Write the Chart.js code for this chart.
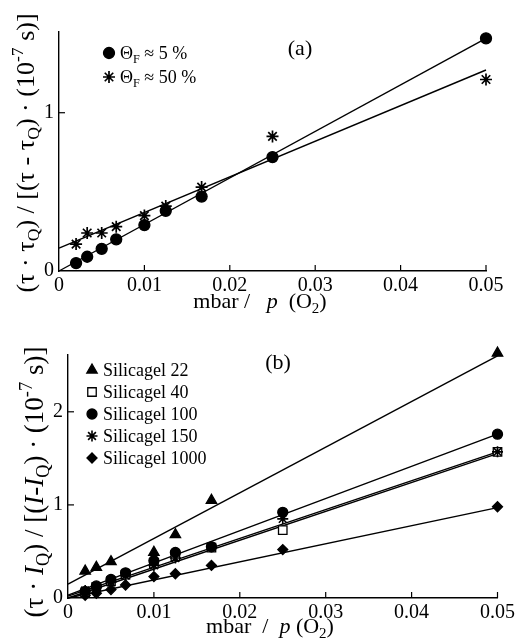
<!DOCTYPE html>
<html>
<head>
<meta charset="utf-8">
<script src="https://cdn.jsdelivr.net/npm/chart.js@4/dist/chart.umd.min.js"></script>
<style>
  body { margin: 0; background: #fff; }
  #wrap { position: relative; width: 518px; height: 639px; }
  canvas { position: absolute; left: 0; }
</style>
</head>
<body>
<div id="wrap">
  <canvas id="chartA" width="518" height="320" style="top:0"></canvas>
  <canvas id="chartB" width="518" height="319" style="top:320px"></canvas>
</div>
<script>
// x = 1 / p(O2) in 1/mbar
const pInv = [0.002, 0.0033, 0.005, 0.0067, 0.01, 0.0125, 0.0167, 0.025, 0.05];
const xTicks = [0, 0.01, 0.02, 0.03, 0.04, 0.05];

// panel (a)
const theta5 = [0.05, 0.09, 0.14, 0.20, 0.29, 0.38, 0.47, 0.72, 1.47];
const theta50 = [0.17, 0.24, 0.24, 0.28, 0.35, 0.41, 0.53, 0.85, 1.21];
const fitTheta5 = [0.0, 1.47];   // value at x=0 and x=0.05
const fitTheta50 = [0.145, 1.27];
const yTicksA = [0, 1];

// panel (b)
const sg22 = [0.29, 0.33, 0.39, null, 0.49, 0.68, 1.05, null, 2.63];
const sg40 = [0.06, 0.12, 0.18, 0.25, 0.37, 0.45, 0.54, 0.73, 1.57];
const sg100 = [0.07, 0.13, 0.20, 0.27, 0.40, 0.49, 0.55, 0.92, 1.76];
const sg150 = [0.08, 0.11, 0.17, 0.24, 0.35, 0.43, 0.55, 0.85, 1.57];
const sg1000 = [0.03, 0.05, 0.09, 0.14, 0.23, 0.26, 0.35, 0.52, 0.98];
const fitSg22 = [0.15, 2.60];
const fitSg40 = [0.02, 1.57];
const fitSg100 = [0.03, 1.76];
const fitSg150 = [0.0, 1.55];
const fitSg1000 = [0.0, 0.97];
const yTicksB = [0, 1, 2];

const FONT = "'Liberation Serif', 'DejaVu Serif', serif";

function pts(ys) {
    return pInv.map((x, i) => ({ x: x, y: ys[i] })).filter(p => p.y !== null);
}
function fitLine(ends) {
    return {
        data: [{ x: 0, y: ends[0] }, { x: 0.05, y: ends[1] }],
        showLine: true, pointRadius: 0, borderColor: "#000", borderWidth: 1.4,
        clip: false, order: 2
    };
}
function markers(ys, style, r, fill, bw) {
    return {
        data: pts(ys), pointStyle: style, pointRadius: r,
        backgroundColor: fill || "#000", borderColor: "#000", borderWidth: bw || 1.3,
        clip: false, order: 1
    };
}

// text with subscripts / superscripts / italics
function drawRich(ctx, parts, size, x, y, opts) {
    opts = opts || {};
    const fontOf = (p) => {
        let s = (p[1] === "sub" || p[1] === "sup") ? size * 0.68 : size;
        let it = p[1] === "i" ? "italic " : "";
        return it + s + "px " + FONT;
    };
    ctx.save();
    ctx.translate(x, y);
    if (opts.rotate) ctx.rotate(-Math.PI / 2);
    let w = 0;
    parts.forEach(p => { ctx.font = fontOf(p); w += ctx.measureText(p[0]).width; });
    let cx = opts.align === "left" ? 0 : -w / 2;
    ctx.fillStyle = "#000";
    ctx.textBaseline = "alphabetic";
    const base = size * 0.33;
    parts.forEach(p => {
        ctx.font = fontOf(p);
        let dy = base;
        if (p[1] === "sub") dy = base + size * 0.22;
        if (p[1] === "sup") dy = base - size * 0.42;
        ctx.fillText(p[0], cx, dy);
        cx += ctx.measureText(p[0]).width;
    });
    ctx.restore();
}

function decor(cfg) {
    return {
        id: "decor",
        afterDraw(chart) {
            const ctx = chart.ctx;
            const xs = chart.scales.x, ys = chart.scales.y;
            const a = chart.chartArea;
            ctx.save();
            ctx.strokeStyle = "#000";
            ctx.lineWidth = 1.2;
            // inward tick marks
            xTicks.slice(1).forEach(v => {
                const px = xs.getPixelForValue(v);
                ctx.beginPath(); ctx.moveTo(px, a.bottom); ctx.lineTo(px, a.bottom - 6); ctx.stroke();
            });
            cfg.yTicks.slice(1).forEach(v => {
                const py = ys.getPixelForValue(v);
                ctx.beginPath(); ctx.moveTo(a.left, py); ctx.lineTo(a.left + 6, py); ctx.stroke();
            });
            // titles
            drawRich(ctx, cfg.yTitle, cfg.yTitleSize, cfg.yTitlePos[0], cfg.yTitlePos[1], { rotate: true });
            drawRich(ctx, cfg.xTitle, 22, cfg.xTitlePos[0], cfg.xTitlePos[1]);
            drawRich(ctx, [[cfg.panel, ""]], 22, cfg.panelPos[0], cfg.panelPos[1]);
            // legend
            cfg.legend.forEach((item, i) => {
                const ly = cfg.legendPos[1] + i * cfg.legendGap;
                ctx.fillStyle = item.fill || "#000";
                ctx.strokeStyle = "#000";
                ctx.lineWidth = item.bw || 1.3;
                Chart.helpers.drawPoint(ctx, { pointStyle: item.style, radius: item.r, rotation: 0, borderWidth: item.bw || 1.3 },
                    cfg.legendPos[0], ly);
                drawRich(ctx, item.label, 18, cfg.legendPos[0] + 11, ly, { align: "left" });
            });
            ctx.restore();
        }
    };
}

function makeOptions(yMax, yTicks, yWidth, xHeight, pad) {
    return {
        responsive: false,
        devicePixelRatio: 1,
        animation: false,
        layout: { padding: pad },
        plugins: { legend: { display: false }, tooltip: { enabled: false } },
        scales: {
            x: {
                type: "linear", min: 0, max: 0.05,
                grid: { display: false, drawTicks: false },
                border: { display: true, color: "#000", width: 1.4 },
                ticks: {
                    stepSize: 0.01, padding: 3, color: "#000",
                    font: { family: FONT, size: 20 },
                    callback: v => v === 0 ? "0" : v.toFixed(2)
                },
                afterBuildTicks: ax => { ax.ticks = xTicks.map(v => ({ value: v })); },
                afterFit: ax => { ax.height = xHeight; }
            },
            y: {
                type: "linear", min: 0, max: yMax,
                grid: { display: false, drawTicks: false },
                border: { display: true, color: "#000", width: 1.4 },
                ticks: { padding: 5, color: "#000", font: { family: FONT, size: 20 } },
                afterBuildTicks: ax => { ax.ticks = yTicks.map(v => ({ value: v })); },
                afterFit: ax => { ax.width = yWidth; }
            }
        }
    };
}

new Chart(document.getElementById("chartA"), {
    type: "scatter",
    data: {
        datasets: [
            fitLine(fitTheta5),
            fitLine(fitTheta50),
            markers(theta5, "circle", 5.5),
            markers(theta50, "star", 6, "#000", 1.7)
        ]
    },
    options: makeOptions(1.51, yTicksA, 59, 49, { left: 0, right: 32, top: 32, bottom: 0 }),
    plugins: [decor({
        yTicks: yTicksA,
        yTitle: [["(τ · τ", ""], ["Q", "sub"], [") / [(τ - τ", ""], ["Q", "sub"], [") · (10", ""], ["-7", "sup"], [" s)]", ""]],
        yTitleSize: 26,
        yTitlePos: [25, 153],
        xTitle: [["mbar /   ", ""], ["p", "i"], ["  (O", ""], ["2", "sub"], [")", ""]],
        xTitlePos: [260, 301],
        panel: "(a)",
        panelPos: [300, 48],
        legendPos: [109, 53],
        legendGap: 24,
        legend: [
            { style: "circle", r: 5.5, label: [["Θ", ""], ["F", "sub"], [" ≈ 5 %", ""]] },
            { style: "star", r: 6, bw: 1.7, label: [["Θ", ""], ["F", "sub"], [" ≈ 50 %", ""]] }
        ]
    })]
});

new Chart(document.getElementById("chartB"), {
    type: "scatter",
    data: {
        datasets: [
            fitLine(fitSg22),
            fitLine(fitSg40),
            fitLine(fitSg100),
            fitLine(fitSg150),
            fitLine(fitSg1000),
            markers(sg22, "triangle", 6),
            markers(sg100, "circle", 5),
            markers(sg150, "star", 5.5, "#000", 1.6),
            markers(sg40, "rect", 6, "#fff"),
            markers(sg1000, "rectRot", 5)
        ]
    },
    options: makeOptions(2.61, yTicksB, 68, 41, { left: 0, right: 20, top: 35, bottom: 0 }),
    plugins: [decor({
        yTicks: yTicksB,
        yTitle: [["(τ · ", ""], ["I", "i"], ["Q", "sub"], [") / [(", ""], ["I", "i"], ["-", ""], ["I", "i"], ["Q", "sub"], [") · (10", ""], ["-7", "sup"], [" s)]", ""]],
        yTitleSize: 27,
        yTitlePos: [34, 162],
        xTitle: [["mbar  /  ", ""], ["p", "i"], [" (O", ""], ["2", "sub"], [")", ""]],
        xTitlePos: [270, 306],
        panel: "(b)",
        panelPos: [278, 42],
        legendPos: [92, 50],
        legendGap: 22,
        legend: [
            { style: "triangle", r: 6, label: [["Silicagel 22", ""]] },
            { style: "rect", r: 6, fill: "#fff", label: [["Silicagel 40", ""]] },
            { style: "circle", r: 5, label: [["Silicagel 100", ""]] },
            { style: "star", r: 5.5, bw: 1.6, label: [["Silicagel 150", ""]] },
            { style: "rectRot", r: 5, label: [["Silicagel 1000", ""]] }
        ]
    })]
});
</script>
</body>
</html>
